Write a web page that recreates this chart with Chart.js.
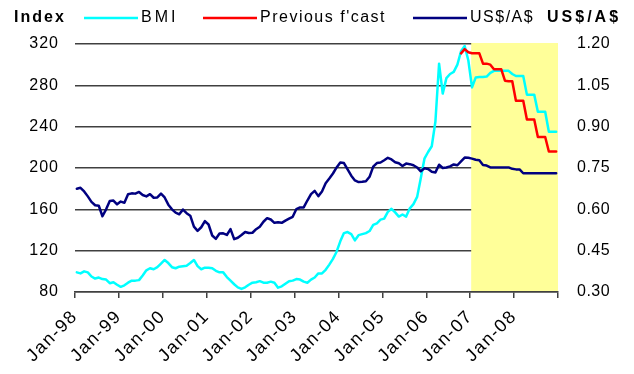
<!DOCTYPE html>
<html>
<head>
<meta charset="utf-8">
<script src="https://cdn.jsdelivr.net/npm/chart.js@4.4.1/dist/chart.umd.min.js"></script>
<style>
  html, body { margin: 0; padding: 0; background: #fff; }
  canvas { display: block; }
</style>
</head>
<body>
<canvas id="c" width="634" height="374"></canvas>
<script>
// Monthly series, Jan-98 .. Dec-08 (index 0 = Jan-98)
const tickLabels = ['Jan-98','Jan-99','Jan-00','Jan-01','Jan-02','Jan-03','Jan-04','Jan-05','Jan-06','Jan-07','Jan-08'];
const monthsPerTick = 12;
const totalMonths = 132;

// BMI index (left axis)
const bmi = [
  99, 98, 100, 99, 95, 93, 94, 92.5, 92, 88.5, 89.5, 87,            // 1998
  85, 86.5, 89, 91, 91, 91.5, 96, 101, 103, 102, 104, 107.5,        // 1999
  111, 108, 104, 103, 104.5, 105, 105.5, 108, 111, 105, 102, 103.5, // 2000
  103.5, 103, 100.5, 99, 99, 94.5, 91, 87.5, 84.5, 83, 84.5, 87,    // 2001
  89, 89.5, 90.5, 89, 89, 90, 89, 84.2, 85.5, 88, 90.5, 91,         // 2002
  92.5, 92, 90, 89, 92, 94, 98, 98, 101.5, 106.5, 112, 119,         // 2003
  129, 137, 138, 136, 130, 135, 136, 137, 139, 145, 146.5, 150,     // 2004
  151, 157.5, 160.5, 157, 153, 155, 153, 161, 165, 172, 190, 209,   // 2005
  215.5, 221, 245, 301, 272, 287, 291, 293, 300, 313, 318, 304,     // 2006
  278, 287.5, 288, 288, 288.5, 292, 294, 294, 294, 294, 294, 291,   // 2007
  289, 289, 289, 271, 271, 271, 254.5, 254.5, 254.5, 235, 235, 235  // 2008
];

// Previous forecast (left axis), starting Oct-06
const prevForecastStart = 105;
const prevForecast = [
  311, 315, 312,
  311, 311, 311, 301, 301, 300, 295.5, 295.5, 295.5, 284.5, 284, 284,
  265, 265, 265, 247, 247, 247, 230, 230, 230, 216, 216, 216
];

// US$ per A$ (right axis)
const usdAud = [
  0.675, 0.678, 0.665, 0.647, 0.627, 0.615, 0.613, 0.575, 0.600, 0.630, 0.632, 0.618, // 1998
  0.628, 0.624, 0.655, 0.658, 0.657, 0.663, 0.652, 0.647, 0.655, 0.642, 0.643, 0.657, // 1999
  0.643, 0.617, 0.600, 0.588, 0.582, 0.599, 0.586, 0.577, 0.537, 0.522, 0.535, 0.557, // 2000
  0.545, 0.505, 0.493, 0.512, 0.513, 0.507, 0.528, 0.492, 0.497, 0.507, 0.518, 0.514, // 2001
  0.515, 0.528, 0.537, 0.555, 0.568, 0.563, 0.551, 0.553, 0.551, 0.559, 0.566, 0.573, // 2002
  0.601, 0.607, 0.607, 0.632, 0.655, 0.667, 0.648, 0.665, 0.695, 0.712, 0.730, 0.752, // 2003
  0.770, 0.768, 0.745, 0.722, 0.705, 0.699, 0.700, 0.702, 0.718, 0.755, 0.768, 0.770, // 2004
  0.778, 0.787, 0.781, 0.771, 0.767, 0.757, 0.766, 0.764, 0.760, 0.752, 0.738, 0.749, // 2005
  0.746, 0.736, 0.734, 0.762, 0.750, 0.752, 0.756, 0.763, 0.760, 0.774, 0.788, 0.787, // 2006
  0.784, 0.780, 0.778, 0.761, 0.759, 0.752, 0.752, 0.752, 0.752, 0.752, 0.752, 0.747, // 2007
  0.745, 0.745, 0.731, 0.731, 0.731, 0.731, 0.731, 0.731, 0.731, 0.731, 0.731, 0.731  // 2008
];

// Forecast period shading begins Jan-07
const forecastFrom = 108;

const leftTicks = [80, 120, 160, 200, 240, 280, 320];
const rightTicks = [0.30, 0.45, 0.60, 0.75, 0.90, 1.05, 1.20];

const FONT = '"Liberation Sans", Arial, sans-serif';

// Linear scale whose tick labels are drawn with extra letter spacing
class SpacedLinearScale extends Chart.LinearScale {
  drawLabels(area) {
    const ctx = this.ctx;
    ctx.save();
    ctx.letterSpacing = (this.options.labelSpacing || 0) + 'px';
    super.drawLabels(area);
    ctx.restore();
  }
}
SpacedLinearScale.id = 'spacedLinear';
SpacedLinearScale.defaults = Chart.LinearScale.defaults;
Chart.register(SpacedLinearScale);

const toPoints = (arr, start) => arr.map((v, k) => ({ x: start + k + 0.5, y: v }));

const shadePlugin = {
  id: 'forecastShade',
  beforeDatasetsDraw(chart) {
    const { ctx, chartArea, scales } = chart;
    const x0 = scales.x.getPixelForValue(forecastFrom);
    ctx.save();
    ctx.fillStyle = '#FFFF99';
    ctx.fillRect(x0 + 1, chartArea.top - 1, chartArea.right - x0 - 1, chartArea.bottom - chartArea.top);
    ctx.restore();
  }
};

// Legend entry placement (line start x) and axis captions
const legendX = [84, 203, 413];

const headerPlugin = {
  id: 'header',
  afterDraw(chart) {
    const ctx = chart.ctx;
    ctx.save();
    ctx.textBaseline = 'middle';
    ctx.textAlign = 'left';
    ctx.fillStyle = '#000';
    ctx.font = 'bold 16px ' + FONT;
    ctx.letterSpacing = '2px';
    ctx.fillText('Index', 14, 18);
    ctx.letterSpacing = '3px';
    ctx.fillText('US$/A$', 547, 18);

    ctx.font = '16px ' + FONT;
    chart.data.datasets.forEach((ds, i) => {
      const x = legendX[i];
      ctx.strokeStyle = ds.borderColor;
      ctx.lineWidth = 2.5;
      ctx.beginPath();
      ctx.moveTo(x, 18);
      ctx.lineTo(x + 54, 18);
      ctx.stroke();
      ctx.letterSpacing = i === 0 ? '3px' : '1.5px';
      ctx.fillText(ds.label, x + 57, 18);
    });
    ctx.restore();
  }
};

new Chart(document.getElementById('c'), {
  type: 'line',
  data: {
    datasets: [
      { label: 'BMI', data: toPoints(bmi, 0), yAxisID: 'y', borderColor: '#00FFFF', borderWidth: 2.5, pointRadius: 0, order: 2 },
      { label: "Previous f'cast", data: toPoints(prevForecast, prevForecastStart), yAxisID: 'y', borderColor: '#FF0000', borderWidth: 2.5, pointRadius: 0, order: 1 },
      { label: 'US$/A$', data: toPoints(usdAud, 0), yAxisID: 'y1', borderColor: '#000080', borderWidth: 2.5, pointRadius: 0, order: 0 }
    ]
  },
  options: {
    responsive: false,
    devicePixelRatio: 1,
    animation: false,
    layout: { padding: { top: 44, left: 0, right: 0, bottom: 0 } },
    elements: { line: { tension: 0, borderJoinStyle: 'round', borderCapStyle: 'round' } },
    plugins: { legend: { display: false }, tooltip: { enabled: false } },
    scales: {
      x: {
        type: 'spacedLinear', position: 'bottom', min: 0, max: totalMonths,
        labelSpacing: 1.5,
        afterBuildTicks: s => {
          const t = [];
          for (let v = 0; v <= totalMonths; v += monthsPerTick) t.push({ value: v });
          s.ticks = t;
        },
        ticks: {
          autoSkip: false, minRotation: 45, maxRotation: 45, padding: 8,
          color: '#000', font: { family: FONT, size: 18 },
          callback: v => tickLabels[v / monthsPerTick] || ''
        },
        grid: { drawOnChartArea: false, drawTicks: true, tickLength: 6, color: '#404040', lineWidth: 1.5 },
        border: { display: true, color: '#404040', width: 1.5 },
        afterFit: s => { s.height = 82; }
      },
      y: {
        type: 'spacedLinear', position: 'left', min: 80, max: 320,
        labelSpacing: 1,
        afterBuildTicks: s => { s.ticks = leftTicks.map(v => ({ value: v })); },
        ticks: { color: '#000', font: { family: FONT, size: 16 }, padding: 16 },
        grid: { color: '#404040', lineWidth: 1.5, drawTicks: false },
        border: { display: false },
        afterFit: s => { s.width = 75; }
      },
      y1: {
        type: 'spacedLinear', position: 'right', min: 0.30, max: 1.20,
        labelSpacing: 0.5,
        afterBuildTicks: s => { s.ticks = rightTicks.map(v => ({ value: v })); },
        ticks: { color: '#000', font: { family: FONT, size: 16 }, padding: 19, callback: v => Number(v).toFixed(2) },
        grid: { display: false, drawTicks: false },
        border: { display: false },
        afterFit: s => { s.width = 76; }
      }
    }
  },
  plugins: [shadePlugin, headerPlugin]
});
</script>
</body>
</html>
